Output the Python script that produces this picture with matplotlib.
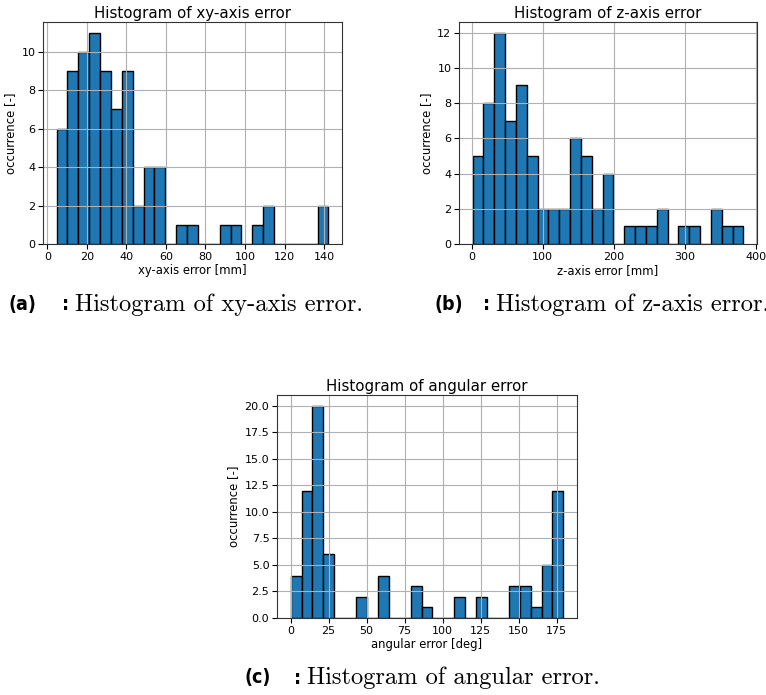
import numpy as np
import matplotlib
matplotlib.use("Agg")
import matplotlib.pyplot as plt

# ---- data ----
xy_start, xy_width = 4.7, 5.5
xy_counts = [6, 9, 10, 11, 9, 7, 9, 2, 4, 4, 0, 1, 1, 0, 0, 1, 1, 0, 1, 2, 0, 0, 0, 0, 2]

z_start, z_width = 1.4, 15.25
z_counts = [5, 8, 12, 7, 9, 5, 2, 2, 2, 6, 5, 2, 4, 0, 1, 1, 1, 2, 0, 1, 1, 0, 2, 1, 1]

ang_start, ang_width = 0.0, 7.18
ang_counts = [4, 12, 20, 6, 0, 0, 2, 0, 4, 0, 0, 3, 1, 0, 0, 2, 0, 2, 0, 0, 3, 3, 1, 5, 12]

titles = ["Histogram of xy-axis error", "Histogram of z-axis error", "Histogram of angular error"]
xlabels = ["xy-axis error [mm]", "z-axis error [mm]", "angular error [deg]"]
ylabel = "occurrence [-]"
captions = [("(a)", "Histogram of xy-axis error."),
            ("(b)", "Histogram of z-axis error."),
            ("(c)", "Histogram of angular error.")]

W, H = 766, 695
fig = plt.figure(figsize=(W / 100, H / 100), dpi=100)

boxes = [(43, 22, 342, 244), (459, 22, 757, 244), (277, 395, 577, 618)]
data = [(xy_start, xy_width, xy_counts), (z_start, z_width, z_counts), (ang_start, ang_width, ang_counts)]

for (l, t, r, b), (s, w, c), title, xl in zip(boxes, data, titles, xlabels):
    ax = fig.add_axes([l / W, 1 - b / H, (r - l) / W, (b - t) / H])
    n = len(c)
    edges = s + w * np.arange(n + 1)
    centers = edges[:-1] + w / 2
    ax.hist(centers, bins=edges, weights=c, color="#1f77b4", edgecolor="black", linewidth=1.0)
    ax.grid(True, color="#b0b0b0", linewidth=0.8)
    ax.set_title(title, fontsize=10.8, pad=3)
    ax.set_xlabel(xl, fontsize=8.4, labelpad=2)
    ax.set_ylabel(ylabel, fontsize=8.4, labelpad=3)
    ax.tick_params(labelsize=8, length=3.5, pad=2)
    for sp in ax.spines.values():
        sp.set_color("#333333")

def caption(xtag, xtext, y, tag, text):
    kw = dict(fontsize=14, fontweight="bold", family="DejaVu Sans",
              fontstretch="condensed", va="center", ha="left")
    fig.text(xtag / W, 1 - y / H, tag, **kw)
    fig.text((xtext - 13) / W, 1 - y / H, ":", **kw)
    fig.text(xtext / W, 1 - y / H, text, fontsize=17.6,
             family="cmr10", va="center", ha="left")

caption(9, 75, 305, *captions[0])
caption(435, 496, 305, *captions[1])
caption(245, 307, 678, *captions[2])

fig.savefig("out.png", dpi=100)
